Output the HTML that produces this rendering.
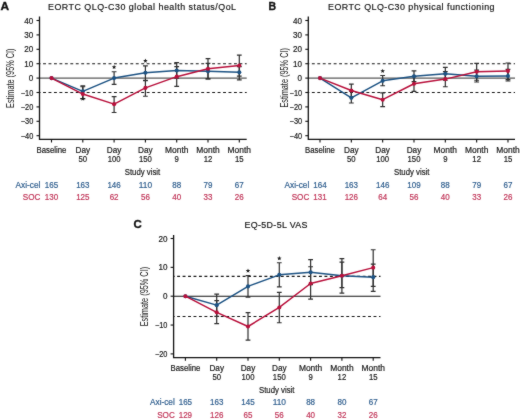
<!DOCTYPE html>
<html><head><meta charset="utf-8"><style>
html,body{margin:0;padding:0;background:#fff;}
svg{display:block;font-family:"Liberation Sans", sans-serif;}
#w{width:520px;height:420px;overflow:hidden;will-change:transform;}
</style></head><body><div id="w">
<svg width="520" height="420" viewBox="0 0 520 420">
<defs><filter id="soft" x="0" y="0" width="520" height="420" filterUnits="userSpaceOnUse" color-interpolation-filters="sRGB"><feConvolveMatrix order="3" kernelMatrix="1 2 1 2 28 2 1 2 1" edgeMode="duplicate"/></filter></defs>
<g filter="url(#soft)">
<rect width="520" height="420" fill="#fff"/>
<text x="0.40" y="9.60" font-size="11.8" textLength="8.6" lengthAdjust="spacingAndGlyphs" font-weight="bold" fill="#111" stroke="#111" stroke-width="0.35">A</text>
<text x="48.00" y="9.60" font-size="8.9" textLength="188" lengthAdjust="spacing" fill="#151515" stroke="#151515" stroke-width="0.18">EORTC QLQ-C30 global health status/QoL</text>
<line x1="39.5" y1="63.70" x2="246.7" y2="63.70" stroke="#151515" stroke-width="1.15" stroke-dasharray="2.9 2.555" stroke-dashoffset="1.9"/>
<line x1="39.5" y1="92.50" x2="246.7" y2="92.50" stroke="#151515" stroke-width="1.15" stroke-dasharray="2.9 2.555" stroke-dashoffset="1.9"/>
<line x1="39.5" y1="78.10" x2="246.7" y2="78.10" stroke="#585858" stroke-width="1.45"/>
<path d="M39.5 16.5 V139.3 H246.7" fill="none" stroke="#111" stroke-width="1.3"/>
<line x1="36.5" y1="20.50" x2="39.5" y2="20.50" stroke="#111" stroke-width="1.1"/>
<text x="33.30" y="23.50" font-size="8.6" text-anchor="end" textLength="8.99" lengthAdjust="spacingAndGlyphs" fill="#1a1a1a" stroke="#1a1a1a" stroke-width="0.2">40</text>
<line x1="36.5" y1="34.90" x2="39.5" y2="34.90" stroke="#111" stroke-width="1.1"/>
<text x="33.30" y="37.90" font-size="8.6" text-anchor="end" textLength="8.99" lengthAdjust="spacingAndGlyphs" fill="#1a1a1a" stroke="#1a1a1a" stroke-width="0.2">30</text>
<line x1="36.5" y1="49.30" x2="39.5" y2="49.30" stroke="#111" stroke-width="1.1"/>
<text x="33.30" y="52.30" font-size="8.6" text-anchor="end" textLength="8.99" lengthAdjust="spacingAndGlyphs" fill="#1a1a1a" stroke="#1a1a1a" stroke-width="0.2">20</text>
<line x1="36.5" y1="63.70" x2="39.5" y2="63.70" stroke="#111" stroke-width="1.1"/>
<text x="33.30" y="66.70" font-size="8.6" text-anchor="end" textLength="8.99" lengthAdjust="spacingAndGlyphs" fill="#1a1a1a" stroke="#1a1a1a" stroke-width="0.2">10</text>
<line x1="36.5" y1="78.10" x2="39.5" y2="78.10" stroke="#111" stroke-width="1.1"/>
<text x="33.30" y="81.10" font-size="8.6" text-anchor="end" textLength="4.49" lengthAdjust="spacingAndGlyphs" fill="#1a1a1a" stroke="#1a1a1a" stroke-width="0.2">0</text>
<line x1="36.5" y1="92.50" x2="39.5" y2="92.50" stroke="#111" stroke-width="1.1"/>
<text x="33.30" y="95.50" font-size="8.6" text-anchor="end" textLength="12.51" lengthAdjust="spacingAndGlyphs" fill="#1a1a1a" stroke="#1a1a1a" stroke-width="0.2">−10</text>
<line x1="36.5" y1="106.90" x2="39.5" y2="106.90" stroke="#111" stroke-width="1.1"/>
<text x="33.30" y="109.90" font-size="8.6" text-anchor="end" textLength="12.51" lengthAdjust="spacingAndGlyphs" fill="#1a1a1a" stroke="#1a1a1a" stroke-width="0.2">−20</text>
<line x1="36.5" y1="121.30" x2="39.5" y2="121.30" stroke="#111" stroke-width="1.1"/>
<text x="33.30" y="124.30" font-size="8.6" text-anchor="end" textLength="12.51" lengthAdjust="spacingAndGlyphs" fill="#1a1a1a" stroke="#1a1a1a" stroke-width="0.2">−30</text>
<line x1="36.5" y1="135.70" x2="39.5" y2="135.70" stroke="#111" stroke-width="1.1"/>
<text x="33.30" y="138.70" font-size="8.6" text-anchor="end" textLength="12.51" lengthAdjust="spacingAndGlyphs" fill="#1a1a1a" stroke="#1a1a1a" stroke-width="0.2">−40</text>
<line x1="51.50" y1="139.3" x2="51.50" y2="142.5" stroke="#111" stroke-width="1.1"/>
<line x1="82.80" y1="139.3" x2="82.80" y2="142.5" stroke="#111" stroke-width="1.1"/>
<line x1="114.10" y1="139.3" x2="114.10" y2="142.5" stroke="#111" stroke-width="1.1"/>
<line x1="145.40" y1="139.3" x2="145.40" y2="142.5" stroke="#111" stroke-width="1.1"/>
<line x1="176.70" y1="139.3" x2="176.70" y2="142.5" stroke="#111" stroke-width="1.1"/>
<line x1="208.00" y1="139.3" x2="208.00" y2="142.5" stroke="#111" stroke-width="1.1"/>
<line x1="239.30" y1="139.3" x2="239.30" y2="142.5" stroke="#111" stroke-width="1.1"/>
<text x="51.50" y="152.80" font-size="8.5" text-anchor="middle" textLength="29.8" lengthAdjust="spacingAndGlyphs" fill="#1a1a1a" stroke="#1a1a1a" stroke-width="0.2">Baseline</text>
<text x="82.80" y="152.80" font-size="8.5" text-anchor="middle" textLength="14.6" lengthAdjust="spacingAndGlyphs" fill="#1a1a1a" stroke="#1a1a1a" stroke-width="0.2">Day</text>
<text x="82.80" y="162.10" font-size="8.9" text-anchor="middle" textLength="8.6" lengthAdjust="spacingAndGlyphs" fill="#1a1a1a" stroke="#1a1a1a" stroke-width="0.2">50</text>
<text x="114.10" y="152.80" font-size="8.5" text-anchor="middle" textLength="14.6" lengthAdjust="spacingAndGlyphs" fill="#1a1a1a" stroke="#1a1a1a" stroke-width="0.2">Day</text>
<text x="114.10" y="162.10" font-size="8.9" text-anchor="middle" textLength="12.899999999999999" lengthAdjust="spacingAndGlyphs" fill="#1a1a1a" stroke="#1a1a1a" stroke-width="0.2">100</text>
<text x="145.40" y="152.80" font-size="8.5" text-anchor="middle" textLength="14.6" lengthAdjust="spacingAndGlyphs" fill="#1a1a1a" stroke="#1a1a1a" stroke-width="0.2">Day</text>
<text x="145.40" y="162.10" font-size="8.9" text-anchor="middle" textLength="12.899999999999999" lengthAdjust="spacingAndGlyphs" fill="#1a1a1a" stroke="#1a1a1a" stroke-width="0.2">150</text>
<text x="176.70" y="152.80" font-size="8.5" text-anchor="middle" textLength="23.4" lengthAdjust="spacingAndGlyphs" fill="#1a1a1a" stroke="#1a1a1a" stroke-width="0.2">Month</text>
<text x="176.70" y="162.10" font-size="8.9" text-anchor="middle" textLength="4.3" lengthAdjust="spacingAndGlyphs" fill="#1a1a1a" stroke="#1a1a1a" stroke-width="0.2">9</text>
<text x="208.00" y="152.80" font-size="8.5" text-anchor="middle" textLength="23.4" lengthAdjust="spacingAndGlyphs" fill="#1a1a1a" stroke="#1a1a1a" stroke-width="0.2">Month</text>
<text x="208.00" y="162.10" font-size="8.9" text-anchor="middle" textLength="8.6" lengthAdjust="spacingAndGlyphs" fill="#1a1a1a" stroke="#1a1a1a" stroke-width="0.2">12</text>
<text x="239.30" y="152.80" font-size="8.5" text-anchor="middle" textLength="23.4" lengthAdjust="spacingAndGlyphs" fill="#1a1a1a" stroke="#1a1a1a" stroke-width="0.2">Month</text>
<text x="239.30" y="162.10" font-size="8.9" text-anchor="middle" textLength="8.6" lengthAdjust="spacingAndGlyphs" fill="#1a1a1a" stroke="#1a1a1a" stroke-width="0.2">15</text>
<text x="142.50" y="174.80" font-size="9.4" text-anchor="middle" textLength="35.5" lengthAdjust="spacingAndGlyphs" fill="#1a1a1a" stroke="#1a1a1a" stroke-width="0.2">Study visit</text>
<text transform="translate(13.9,78.2) rotate(-90)" font-size="10.3" text-anchor="middle" textLength="59.5" lengthAdjust="spacingAndGlyphs" fill="#1a1a1a">Estimate (95% CI)</text>
<path d="M82.80 85.88 V98.55 M80.40 85.88 H85.20 M80.40 98.55 H85.20" stroke="#2e2e2e" stroke-width="1.2" fill="none"/>
<path d="M114.10 71.76 V84.44 M111.70 71.76 H116.50 M111.70 84.44 H116.50" stroke="#2e2e2e" stroke-width="1.2" fill="none"/>
<path d="M145.40 65.86 V80.55 M143.00 65.86 H147.80 M143.00 80.55 H147.80" stroke="#2e2e2e" stroke-width="1.2" fill="none"/>
<path d="M176.70 62.55 V78.10 M174.30 62.55 H179.10 M174.30 78.10 H179.10" stroke="#2e2e2e" stroke-width="1.2" fill="none"/>
<path d="M208.00 63.41 V78.96 M205.60 63.41 H210.40 M205.60 78.96 H210.40" stroke="#2e2e2e" stroke-width="1.2" fill="none"/>
<path d="M239.30 66.58 V79.97 M236.90 66.58 H241.70 M236.90 79.97 H241.70" stroke="#2e2e2e" stroke-width="1.2" fill="none"/>
<path d="M82.80 86.74 V98.55 M80.40 86.74 H85.20 M80.40 98.55 H85.20" stroke="#2e2e2e" stroke-width="1.2" fill="none"/>
<path d="M114.10 96.68 V112.52 M111.70 96.68 H116.50 M111.70 112.52 H116.50" stroke="#2e2e2e" stroke-width="1.2" fill="none"/>
<path d="M145.40 80.26 V96.24 M143.00 80.26 H147.80 M143.00 96.24 H147.80" stroke="#2e2e2e" stroke-width="1.2" fill="none"/>
<path d="M176.70 66.72 V86.31 M174.30 66.72 H179.10 M174.30 86.31 H179.10" stroke="#2e2e2e" stroke-width="1.2" fill="none"/>
<path d="M208.00 58.66 V78.82 M205.60 58.66 H210.40 M205.60 78.82 H210.40" stroke="#2e2e2e" stroke-width="1.2" fill="none"/>
<path d="M239.30 55.20 V76.08 M236.90 55.20 H241.70 M236.90 76.08 H241.70" stroke="#2e2e2e" stroke-width="1.2" fill="none"/>
<polyline points="51.50,78.10 82.80,91.35 114.10,78.10 145.40,72.77 176.70,70.47 208.00,71.33 239.30,72.34" fill="none" stroke="#1c5283" stroke-width="1.5" stroke-linejoin="round"/>
<circle cx="51.50" cy="78.10" r="2.05" fill="#1c5283"/>
<circle cx="82.80" cy="91.35" r="2.05" fill="#1c5283"/>
<circle cx="114.10" cy="78.10" r="2.05" fill="#1c5283"/>
<circle cx="145.40" cy="72.77" r="2.05" fill="#1c5283"/>
<circle cx="176.70" cy="70.47" r="2.05" fill="#1c5283"/>
<circle cx="208.00" cy="71.33" r="2.05" fill="#1c5283"/>
<circle cx="239.30" cy="72.34" r="2.05" fill="#1c5283"/>
<polyline points="51.50,78.10 82.80,94.08 114.10,104.16 145.40,87.89 176.70,76.66 208.00,68.74 239.30,65.43" fill="none" stroke="#b8103b" stroke-width="1.5" stroke-linejoin="round"/>
<circle cx="51.50" cy="78.10" r="2.05" fill="#b8103b"/>
<circle cx="82.80" cy="94.08" r="2.05" fill="#b8103b"/>
<circle cx="114.10" cy="104.16" r="2.05" fill="#b8103b"/>
<circle cx="145.40" cy="87.89" r="2.05" fill="#b8103b"/>
<circle cx="176.70" cy="76.66" r="2.05" fill="#b8103b"/>
<circle cx="208.00" cy="68.74" r="2.05" fill="#b8103b"/>
<circle cx="239.30" cy="65.43" r="2.05" fill="#b8103b"/>
<polygon points="114.10,64.77 114.69,66.36 116.38,66.43 115.05,67.48 115.51,69.11 114.10,68.17 112.69,69.11 113.15,67.48 111.82,66.43 113.51,66.36" fill="#1a1a1a"/>
<polygon points="145.40,58.50 145.99,60.09 147.68,60.16 146.35,61.21 146.81,62.85 145.40,61.90 143.99,62.85 144.45,61.21 143.12,60.16 144.81,60.09" fill="#1a1a1a"/>
<polygon points="82.80,96.45 83.39,98.04 85.08,98.11 83.75,99.16 84.21,100.79 82.80,99.85 81.39,100.79 81.85,99.16 80.52,98.11 82.21,98.04" fill="#1a1a1a"/>
<text x="40.40" y="187.60" font-size="8.5" text-anchor="end" textLength="24.8" lengthAdjust="spacingAndGlyphs" fill="#2f5e8e" stroke="#2f5e8e" stroke-width="0.2">Axi-cel</text>
<text x="40.40" y="199.70" font-size="8.5" text-anchor="end" textLength="17.6" lengthAdjust="spacingAndGlyphs" fill="#c03558" stroke="#c03558" stroke-width="0.2">SOC</text>
<text x="51.50" y="187.60" font-size="8.9" text-anchor="middle" textLength="13.350000000000001" lengthAdjust="spacingAndGlyphs" fill="#2f5e8e" stroke="#2f5e8e" stroke-width="0.2">165</text>
<text x="82.80" y="187.60" font-size="8.9" text-anchor="middle" textLength="13.350000000000001" lengthAdjust="spacingAndGlyphs" fill="#2f5e8e" stroke="#2f5e8e" stroke-width="0.2">163</text>
<text x="114.10" y="187.60" font-size="8.9" text-anchor="middle" textLength="13.350000000000001" lengthAdjust="spacingAndGlyphs" fill="#2f5e8e" stroke="#2f5e8e" stroke-width="0.2">146</text>
<text x="145.40" y="187.60" font-size="8.9" text-anchor="middle" textLength="13.350000000000001" lengthAdjust="spacingAndGlyphs" fill="#2f5e8e" stroke="#2f5e8e" stroke-width="0.2">110</text>
<text x="176.70" y="187.60" font-size="8.9" text-anchor="middle" textLength="8.9" lengthAdjust="spacingAndGlyphs" fill="#2f5e8e" stroke="#2f5e8e" stroke-width="0.2">88</text>
<text x="208.00" y="187.60" font-size="8.9" text-anchor="middle" textLength="8.9" lengthAdjust="spacingAndGlyphs" fill="#2f5e8e" stroke="#2f5e8e" stroke-width="0.2">79</text>
<text x="239.30" y="187.60" font-size="8.9" text-anchor="middle" textLength="8.9" lengthAdjust="spacingAndGlyphs" fill="#2f5e8e" stroke="#2f5e8e" stroke-width="0.2">67</text>
<text x="51.50" y="199.70" font-size="8.9" text-anchor="middle" textLength="13.350000000000001" lengthAdjust="spacingAndGlyphs" fill="#c03558" stroke="#c03558" stroke-width="0.2">130</text>
<text x="82.80" y="199.70" font-size="8.9" text-anchor="middle" textLength="13.350000000000001" lengthAdjust="spacingAndGlyphs" fill="#c03558" stroke="#c03558" stroke-width="0.2">125</text>
<text x="114.10" y="199.70" font-size="8.9" text-anchor="middle" textLength="8.9" lengthAdjust="spacingAndGlyphs" fill="#c03558" stroke="#c03558" stroke-width="0.2">62</text>
<text x="145.40" y="199.70" font-size="8.9" text-anchor="middle" textLength="8.9" lengthAdjust="spacingAndGlyphs" fill="#c03558" stroke="#c03558" stroke-width="0.2">56</text>
<text x="176.70" y="199.70" font-size="8.9" text-anchor="middle" textLength="8.9" lengthAdjust="spacingAndGlyphs" fill="#c03558" stroke="#c03558" stroke-width="0.2">40</text>
<text x="208.00" y="199.70" font-size="8.9" text-anchor="middle" textLength="8.9" lengthAdjust="spacingAndGlyphs" fill="#c03558" stroke="#c03558" stroke-width="0.2">33</text>
<text x="239.30" y="199.70" font-size="8.9" text-anchor="middle" textLength="8.9" lengthAdjust="spacingAndGlyphs" fill="#c03558" stroke="#c03558" stroke-width="0.2">26</text>
<text x="268.60" y="9.60" font-size="11.8" textLength="7.6" lengthAdjust="spacingAndGlyphs" font-weight="bold" fill="#111" stroke="#111" stroke-width="0.35">B</text>
<text x="328.00" y="9.60" font-size="8.9" textLength="166.5" lengthAdjust="spacing" fill="#151515" stroke="#151515" stroke-width="0.18">EORTC QLQ-C30 physical functioning</text>
<line x1="308.3" y1="63.70" x2="515" y2="63.70" stroke="#151515" stroke-width="1.15" stroke-dasharray="2.9 2.555" stroke-dashoffset="1.9"/>
<line x1="308.3" y1="92.50" x2="515" y2="92.50" stroke="#151515" stroke-width="1.15" stroke-dasharray="2.9 2.555" stroke-dashoffset="1.9"/>
<line x1="308.3" y1="78.10" x2="515" y2="78.10" stroke="#585858" stroke-width="1.45"/>
<path d="M308.3 16.5 V139.3 H515" fill="none" stroke="#111" stroke-width="1.3"/>
<line x1="305.3" y1="20.50" x2="308.3" y2="20.50" stroke="#111" stroke-width="1.1"/>
<text x="302.10" y="23.50" font-size="8.6" text-anchor="end" textLength="8.99" lengthAdjust="spacingAndGlyphs" fill="#1a1a1a" stroke="#1a1a1a" stroke-width="0.2">40</text>
<line x1="305.3" y1="34.90" x2="308.3" y2="34.90" stroke="#111" stroke-width="1.1"/>
<text x="302.10" y="37.90" font-size="8.6" text-anchor="end" textLength="8.99" lengthAdjust="spacingAndGlyphs" fill="#1a1a1a" stroke="#1a1a1a" stroke-width="0.2">30</text>
<line x1="305.3" y1="49.30" x2="308.3" y2="49.30" stroke="#111" stroke-width="1.1"/>
<text x="302.10" y="52.30" font-size="8.6" text-anchor="end" textLength="8.99" lengthAdjust="spacingAndGlyphs" fill="#1a1a1a" stroke="#1a1a1a" stroke-width="0.2">20</text>
<line x1="305.3" y1="63.70" x2="308.3" y2="63.70" stroke="#111" stroke-width="1.1"/>
<text x="302.10" y="66.70" font-size="8.6" text-anchor="end" textLength="8.99" lengthAdjust="spacingAndGlyphs" fill="#1a1a1a" stroke="#1a1a1a" stroke-width="0.2">10</text>
<line x1="305.3" y1="78.10" x2="308.3" y2="78.10" stroke="#111" stroke-width="1.1"/>
<text x="302.10" y="81.10" font-size="8.6" text-anchor="end" textLength="4.49" lengthAdjust="spacingAndGlyphs" fill="#1a1a1a" stroke="#1a1a1a" stroke-width="0.2">0</text>
<line x1="305.3" y1="92.50" x2="308.3" y2="92.50" stroke="#111" stroke-width="1.1"/>
<text x="302.10" y="95.50" font-size="8.6" text-anchor="end" textLength="12.51" lengthAdjust="spacingAndGlyphs" fill="#1a1a1a" stroke="#1a1a1a" stroke-width="0.2">−10</text>
<line x1="305.3" y1="106.90" x2="308.3" y2="106.90" stroke="#111" stroke-width="1.1"/>
<text x="302.10" y="109.90" font-size="8.6" text-anchor="end" textLength="12.51" lengthAdjust="spacingAndGlyphs" fill="#1a1a1a" stroke="#1a1a1a" stroke-width="0.2">−20</text>
<line x1="305.3" y1="121.30" x2="308.3" y2="121.30" stroke="#111" stroke-width="1.1"/>
<text x="302.10" y="124.30" font-size="8.6" text-anchor="end" textLength="12.51" lengthAdjust="spacingAndGlyphs" fill="#1a1a1a" stroke="#1a1a1a" stroke-width="0.2">−30</text>
<line x1="305.3" y1="135.70" x2="308.3" y2="135.70" stroke="#111" stroke-width="1.1"/>
<text x="302.10" y="138.70" font-size="8.6" text-anchor="end" textLength="12.51" lengthAdjust="spacingAndGlyphs" fill="#1a1a1a" stroke="#1a1a1a" stroke-width="0.2">−40</text>
<line x1="320.00" y1="139.3" x2="320.00" y2="142.5" stroke="#111" stroke-width="1.1"/>
<line x1="351.33" y1="139.3" x2="351.33" y2="142.5" stroke="#111" stroke-width="1.1"/>
<line x1="382.66" y1="139.3" x2="382.66" y2="142.5" stroke="#111" stroke-width="1.1"/>
<line x1="413.99" y1="139.3" x2="413.99" y2="142.5" stroke="#111" stroke-width="1.1"/>
<line x1="445.32" y1="139.3" x2="445.32" y2="142.5" stroke="#111" stroke-width="1.1"/>
<line x1="476.65" y1="139.3" x2="476.65" y2="142.5" stroke="#111" stroke-width="1.1"/>
<line x1="507.98" y1="139.3" x2="507.98" y2="142.5" stroke="#111" stroke-width="1.1"/>
<text x="320.00" y="152.80" font-size="8.5" text-anchor="middle" textLength="29.8" lengthAdjust="spacingAndGlyphs" fill="#1a1a1a" stroke="#1a1a1a" stroke-width="0.2">Baseline</text>
<text x="351.33" y="152.80" font-size="8.5" text-anchor="middle" textLength="14.6" lengthAdjust="spacingAndGlyphs" fill="#1a1a1a" stroke="#1a1a1a" stroke-width="0.2">Day</text>
<text x="351.33" y="162.10" font-size="8.9" text-anchor="middle" textLength="8.6" lengthAdjust="spacingAndGlyphs" fill="#1a1a1a" stroke="#1a1a1a" stroke-width="0.2">50</text>
<text x="382.66" y="152.80" font-size="8.5" text-anchor="middle" textLength="14.6" lengthAdjust="spacingAndGlyphs" fill="#1a1a1a" stroke="#1a1a1a" stroke-width="0.2">Day</text>
<text x="382.66" y="162.10" font-size="8.9" text-anchor="middle" textLength="12.899999999999999" lengthAdjust="spacingAndGlyphs" fill="#1a1a1a" stroke="#1a1a1a" stroke-width="0.2">100</text>
<text x="413.99" y="152.80" font-size="8.5" text-anchor="middle" textLength="14.6" lengthAdjust="spacingAndGlyphs" fill="#1a1a1a" stroke="#1a1a1a" stroke-width="0.2">Day</text>
<text x="413.99" y="162.10" font-size="8.9" text-anchor="middle" textLength="12.899999999999999" lengthAdjust="spacingAndGlyphs" fill="#1a1a1a" stroke="#1a1a1a" stroke-width="0.2">150</text>
<text x="445.32" y="152.80" font-size="8.5" text-anchor="middle" textLength="23.4" lengthAdjust="spacingAndGlyphs" fill="#1a1a1a" stroke="#1a1a1a" stroke-width="0.2">Month</text>
<text x="445.32" y="162.10" font-size="8.9" text-anchor="middle" textLength="4.3" lengthAdjust="spacingAndGlyphs" fill="#1a1a1a" stroke="#1a1a1a" stroke-width="0.2">9</text>
<text x="476.65" y="152.80" font-size="8.5" text-anchor="middle" textLength="23.4" lengthAdjust="spacingAndGlyphs" fill="#1a1a1a" stroke="#1a1a1a" stroke-width="0.2">Month</text>
<text x="476.65" y="162.10" font-size="8.9" text-anchor="middle" textLength="8.6" lengthAdjust="spacingAndGlyphs" fill="#1a1a1a" stroke="#1a1a1a" stroke-width="0.2">12</text>
<text x="507.98" y="152.80" font-size="8.5" text-anchor="middle" textLength="23.4" lengthAdjust="spacingAndGlyphs" fill="#1a1a1a" stroke="#1a1a1a" stroke-width="0.2">Month</text>
<text x="507.98" y="162.10" font-size="8.9" text-anchor="middle" textLength="8.6" lengthAdjust="spacingAndGlyphs" fill="#1a1a1a" stroke="#1a1a1a" stroke-width="0.2">15</text>
<text x="411.70" y="174.80" font-size="9.4" text-anchor="middle" textLength="35.5" lengthAdjust="spacingAndGlyphs" fill="#1a1a1a" stroke="#1a1a1a" stroke-width="0.2">Study visit</text>
<text transform="translate(288.1,77.8) rotate(-90)" font-size="10.3" text-anchor="middle" textLength="59.5" lengthAdjust="spacingAndGlyphs" fill="#1a1a1a">Estimate (95% CI)</text>
<path d="M351.33 91.06 V103.01 M348.93 91.06 H353.73 M348.93 103.01 H353.73" stroke="#2e2e2e" stroke-width="1.2" fill="none"/>
<path d="M382.66 75.51 V85.73 M380.26 75.51 H385.06 M380.26 85.73 H385.06" stroke="#2e2e2e" stroke-width="1.2" fill="none"/>
<path d="M413.99 70.90 V81.70 M411.59 70.90 H416.39 M411.59 81.70 H416.39" stroke="#2e2e2e" stroke-width="1.2" fill="none"/>
<path d="M445.32 67.44 V80.26 M442.92 67.44 H447.72 M442.92 80.26 H447.72" stroke="#2e2e2e" stroke-width="1.2" fill="none"/>
<path d="M476.65 70.18 V81.99 M474.25 70.18 H479.05 M474.25 81.99 H479.05" stroke="#2e2e2e" stroke-width="1.2" fill="none"/>
<path d="M507.98 69.46 V80.98 M505.58 69.46 H510.38 M505.58 80.98 H510.38" stroke="#2e2e2e" stroke-width="1.2" fill="none"/>
<path d="M351.33 84.15 V96.82 M348.93 84.15 H353.73 M348.93 96.82 H353.73" stroke="#2e2e2e" stroke-width="1.2" fill="none"/>
<path d="M382.66 92.93 V106.61 M380.26 92.93 H385.06 M380.26 106.61 H385.06" stroke="#2e2e2e" stroke-width="1.2" fill="none"/>
<path d="M413.99 76.66 V91.35 M411.59 76.66 H416.39 M411.59 91.35 H416.39" stroke="#2e2e2e" stroke-width="1.2" fill="none"/>
<path d="M445.32 71.62 V86.74 M442.92 71.62 H447.72 M442.92 86.74 H447.72" stroke="#2e2e2e" stroke-width="1.2" fill="none"/>
<path d="M476.65 63.41 V80.26 M474.25 63.41 H479.05 M474.25 80.26 H479.05" stroke="#2e2e2e" stroke-width="1.2" fill="none"/>
<path d="M507.98 62.98 V79.54 M505.58 62.98 H510.38 M505.58 79.54 H510.38" stroke="#2e2e2e" stroke-width="1.2" fill="none"/>
<polyline points="320.00,78.10 351.33,97.83 382.66,80.84 413.99,76.23 445.32,73.78 476.65,76.23 507.98,75.94" fill="none" stroke="#1c5283" stroke-width="1.5" stroke-linejoin="round"/>
<circle cx="320.00" cy="78.10" r="2.05" fill="#1c5283"/>
<circle cx="351.33" cy="97.83" r="2.05" fill="#1c5283"/>
<circle cx="382.66" cy="80.84" r="2.05" fill="#1c5283"/>
<circle cx="413.99" cy="76.23" r="2.05" fill="#1c5283"/>
<circle cx="445.32" cy="73.78" r="2.05" fill="#1c5283"/>
<circle cx="476.65" cy="76.23" r="2.05" fill="#1c5283"/>
<circle cx="507.98" cy="75.94" r="2.05" fill="#1c5283"/>
<polyline points="320.00,78.10 351.33,90.48 382.66,99.70 413.99,83.72 445.32,79.11 476.65,71.76 507.98,70.90" fill="none" stroke="#b8103b" stroke-width="1.5" stroke-linejoin="round"/>
<circle cx="320.00" cy="78.10" r="2.05" fill="#b8103b"/>
<circle cx="351.33" cy="90.48" r="2.05" fill="#b8103b"/>
<circle cx="382.66" cy="99.70" r="2.05" fill="#b8103b"/>
<circle cx="413.99" cy="83.72" r="2.05" fill="#b8103b"/>
<circle cx="445.32" cy="79.11" r="2.05" fill="#b8103b"/>
<circle cx="476.65" cy="71.76" r="2.05" fill="#b8103b"/>
<circle cx="507.98" cy="70.90" r="2.05" fill="#b8103b"/>
<polygon points="382.66,68.70 383.25,70.29 384.94,70.36 383.61,71.41 384.07,73.04 382.66,72.10 381.25,73.04 381.71,71.41 380.38,70.36 382.07,70.29" fill="#1a1a1a"/>
<text x="309.30" y="187.60" font-size="8.5" text-anchor="end" textLength="24.8" lengthAdjust="spacingAndGlyphs" fill="#2f5e8e" stroke="#2f5e8e" stroke-width="0.2">Axi-cel</text>
<text x="309.30" y="199.70" font-size="8.5" text-anchor="end" textLength="17.6" lengthAdjust="spacingAndGlyphs" fill="#c03558" stroke="#c03558" stroke-width="0.2">SOC</text>
<text x="320.00" y="187.60" font-size="8.9" text-anchor="middle" textLength="13.350000000000001" lengthAdjust="spacingAndGlyphs" fill="#2f5e8e" stroke="#2f5e8e" stroke-width="0.2">164</text>
<text x="351.33" y="187.60" font-size="8.9" text-anchor="middle" textLength="13.350000000000001" lengthAdjust="spacingAndGlyphs" fill="#2f5e8e" stroke="#2f5e8e" stroke-width="0.2">163</text>
<text x="382.66" y="187.60" font-size="8.9" text-anchor="middle" textLength="13.350000000000001" lengthAdjust="spacingAndGlyphs" fill="#2f5e8e" stroke="#2f5e8e" stroke-width="0.2">146</text>
<text x="413.99" y="187.60" font-size="8.9" text-anchor="middle" textLength="13.350000000000001" lengthAdjust="spacingAndGlyphs" fill="#2f5e8e" stroke="#2f5e8e" stroke-width="0.2">109</text>
<text x="445.32" y="187.60" font-size="8.9" text-anchor="middle" textLength="8.9" lengthAdjust="spacingAndGlyphs" fill="#2f5e8e" stroke="#2f5e8e" stroke-width="0.2">88</text>
<text x="476.65" y="187.60" font-size="8.9" text-anchor="middle" textLength="8.9" lengthAdjust="spacingAndGlyphs" fill="#2f5e8e" stroke="#2f5e8e" stroke-width="0.2">79</text>
<text x="507.98" y="187.60" font-size="8.9" text-anchor="middle" textLength="8.9" lengthAdjust="spacingAndGlyphs" fill="#2f5e8e" stroke="#2f5e8e" stroke-width="0.2">67</text>
<text x="320.00" y="199.70" font-size="8.9" text-anchor="middle" textLength="13.350000000000001" lengthAdjust="spacingAndGlyphs" fill="#c03558" stroke="#c03558" stroke-width="0.2">131</text>
<text x="351.33" y="199.70" font-size="8.9" text-anchor="middle" textLength="13.350000000000001" lengthAdjust="spacingAndGlyphs" fill="#c03558" stroke="#c03558" stroke-width="0.2">126</text>
<text x="382.66" y="199.70" font-size="8.9" text-anchor="middle" textLength="8.9" lengthAdjust="spacingAndGlyphs" fill="#c03558" stroke="#c03558" stroke-width="0.2">64</text>
<text x="413.99" y="199.70" font-size="8.9" text-anchor="middle" textLength="8.9" lengthAdjust="spacingAndGlyphs" fill="#c03558" stroke="#c03558" stroke-width="0.2">56</text>
<text x="445.32" y="199.70" font-size="8.9" text-anchor="middle" textLength="8.9" lengthAdjust="spacingAndGlyphs" fill="#c03558" stroke="#c03558" stroke-width="0.2">40</text>
<text x="476.65" y="199.70" font-size="8.9" text-anchor="middle" textLength="8.9" lengthAdjust="spacingAndGlyphs" fill="#c03558" stroke="#c03558" stroke-width="0.2">33</text>
<text x="507.98" y="199.70" font-size="8.9" text-anchor="middle" textLength="8.9" lengthAdjust="spacingAndGlyphs" fill="#c03558" stroke="#c03558" stroke-width="0.2">26</text>
<text x="133.40" y="228.40" font-size="11.8" textLength="8.3" lengthAdjust="spacingAndGlyphs" font-weight="bold" fill="#111" stroke="#111" stroke-width="0.35">C</text>
<text x="244.50" y="227.90" font-size="8.9" textLength="63" lengthAdjust="spacing" fill="#151515" stroke="#151515" stroke-width="0.18">EQ-5D-5L VAS</text>
<line x1="173.6" y1="276.40" x2="380.5" y2="276.40" stroke="#151515" stroke-width="1.15" stroke-dasharray="2.9 2.555" stroke-dashoffset="1.9"/>
<line x1="173.6" y1="316.50" x2="380.5" y2="316.50" stroke="#151515" stroke-width="1.15" stroke-dasharray="2.9 2.555" stroke-dashoffset="1.9"/>
<line x1="173.6" y1="296.20" x2="380.5" y2="296.20" stroke="#111" stroke-width="1.1"/>
<path d="M173.6 235 V357.6 H380.5" fill="none" stroke="#111" stroke-width="1.3"/>
<line x1="170.6" y1="238.50" x2="173.6" y2="238.50" stroke="#111" stroke-width="1.1"/>
<text x="167.40" y="241.50" font-size="8.6" text-anchor="end" textLength="8.99" lengthAdjust="spacingAndGlyphs" fill="#1a1a1a" stroke="#1a1a1a" stroke-width="0.2">20</text>
<line x1="170.6" y1="267.35" x2="173.6" y2="267.35" stroke="#111" stroke-width="1.1"/>
<text x="167.40" y="270.35" font-size="8.6" text-anchor="end" textLength="8.99" lengthAdjust="spacingAndGlyphs" fill="#1a1a1a" stroke="#1a1a1a" stroke-width="0.2">10</text>
<line x1="170.6" y1="296.20" x2="173.6" y2="296.20" stroke="#111" stroke-width="1.1"/>
<text x="167.40" y="299.20" font-size="8.6" text-anchor="end" textLength="4.49" lengthAdjust="spacingAndGlyphs" fill="#1a1a1a" stroke="#1a1a1a" stroke-width="0.2">0</text>
<line x1="170.6" y1="325.05" x2="173.6" y2="325.05" stroke="#111" stroke-width="1.1"/>
<text x="167.40" y="328.05" font-size="8.6" text-anchor="end" textLength="12.51" lengthAdjust="spacingAndGlyphs" fill="#1a1a1a" stroke="#1a1a1a" stroke-width="0.2">−10</text>
<line x1="170.6" y1="353.90" x2="173.6" y2="353.90" stroke="#111" stroke-width="1.1"/>
<text x="167.40" y="356.90" font-size="8.6" text-anchor="end" textLength="12.51" lengthAdjust="spacingAndGlyphs" fill="#1a1a1a" stroke="#1a1a1a" stroke-width="0.2">−20</text>
<line x1="185.40" y1="357.6" x2="185.40" y2="360.8" stroke="#111" stroke-width="1.1"/>
<line x1="216.70" y1="357.6" x2="216.70" y2="360.8" stroke="#111" stroke-width="1.1"/>
<line x1="248.00" y1="357.6" x2="248.00" y2="360.8" stroke="#111" stroke-width="1.1"/>
<line x1="279.30" y1="357.6" x2="279.30" y2="360.8" stroke="#111" stroke-width="1.1"/>
<line x1="310.60" y1="357.6" x2="310.60" y2="360.8" stroke="#111" stroke-width="1.1"/>
<line x1="341.90" y1="357.6" x2="341.90" y2="360.8" stroke="#111" stroke-width="1.1"/>
<line x1="373.20" y1="357.6" x2="373.20" y2="360.8" stroke="#111" stroke-width="1.1"/>
<text x="185.40" y="370.60" font-size="8.5" text-anchor="middle" textLength="29.8" lengthAdjust="spacingAndGlyphs" fill="#1a1a1a" stroke="#1a1a1a" stroke-width="0.2">Baseline</text>
<text x="216.70" y="370.60" font-size="8.5" text-anchor="middle" textLength="14.6" lengthAdjust="spacingAndGlyphs" fill="#1a1a1a" stroke="#1a1a1a" stroke-width="0.2">Day</text>
<text x="216.70" y="380.30" font-size="8.9" text-anchor="middle" textLength="8.6" lengthAdjust="spacingAndGlyphs" fill="#1a1a1a" stroke="#1a1a1a" stroke-width="0.2">50</text>
<text x="248.00" y="370.60" font-size="8.5" text-anchor="middle" textLength="14.6" lengthAdjust="spacingAndGlyphs" fill="#1a1a1a" stroke="#1a1a1a" stroke-width="0.2">Day</text>
<text x="248.00" y="380.30" font-size="8.9" text-anchor="middle" textLength="12.899999999999999" lengthAdjust="spacingAndGlyphs" fill="#1a1a1a" stroke="#1a1a1a" stroke-width="0.2">100</text>
<text x="279.30" y="370.60" font-size="8.5" text-anchor="middle" textLength="14.6" lengthAdjust="spacingAndGlyphs" fill="#1a1a1a" stroke="#1a1a1a" stroke-width="0.2">Day</text>
<text x="279.30" y="380.30" font-size="8.9" text-anchor="middle" textLength="12.899999999999999" lengthAdjust="spacingAndGlyphs" fill="#1a1a1a" stroke="#1a1a1a" stroke-width="0.2">150</text>
<text x="310.60" y="370.60" font-size="8.5" text-anchor="middle" textLength="23.4" lengthAdjust="spacingAndGlyphs" fill="#1a1a1a" stroke="#1a1a1a" stroke-width="0.2">Month</text>
<text x="310.60" y="380.30" font-size="8.9" text-anchor="middle" textLength="4.3" lengthAdjust="spacingAndGlyphs" fill="#1a1a1a" stroke="#1a1a1a" stroke-width="0.2">9</text>
<text x="341.90" y="370.60" font-size="8.5" text-anchor="middle" textLength="23.4" lengthAdjust="spacingAndGlyphs" fill="#1a1a1a" stroke="#1a1a1a" stroke-width="0.2">Month</text>
<text x="341.90" y="380.30" font-size="8.9" text-anchor="middle" textLength="8.6" lengthAdjust="spacingAndGlyphs" fill="#1a1a1a" stroke="#1a1a1a" stroke-width="0.2">12</text>
<text x="373.20" y="370.60" font-size="8.5" text-anchor="middle" textLength="23.4" lengthAdjust="spacingAndGlyphs" fill="#1a1a1a" stroke="#1a1a1a" stroke-width="0.2">Month</text>
<text x="373.20" y="380.30" font-size="8.9" text-anchor="middle" textLength="8.6" lengthAdjust="spacingAndGlyphs" fill="#1a1a1a" stroke="#1a1a1a" stroke-width="0.2">15</text>
<text x="276.70" y="393.10" font-size="9.4" text-anchor="middle" textLength="35.5" lengthAdjust="spacingAndGlyphs" fill="#1a1a1a" stroke="#1a1a1a" stroke-width="0.2">Study visit</text>
<text transform="translate(148.2,296.6) rotate(-90)" font-size="10.3" text-anchor="middle" textLength="59.5" lengthAdjust="spacingAndGlyphs" fill="#1a1a1a">Estimate (95% CI)</text>
<path d="M216.70 294.18 V316.39 M214.30 294.18 H219.10 M214.30 316.39 H219.10" stroke="#2e2e2e" stroke-width="1.2" fill="none"/>
<path d="M248.00 275.72 V297.07 M245.60 275.72 H250.40 M245.60 297.07 H250.40" stroke="#2e2e2e" stroke-width="1.2" fill="none"/>
<path d="M279.30 262.73 V286.97 M276.90 262.73 H281.70 M276.90 286.97 H281.70" stroke="#2e2e2e" stroke-width="1.2" fill="none"/>
<path d="M310.60 259.56 V284.66 M308.20 259.56 H313.00 M308.20 284.66 H313.00" stroke="#2e2e2e" stroke-width="1.2" fill="none"/>
<path d="M341.90 262.16 V293.03 M339.50 262.16 H344.30 M339.50 293.03 H344.30" stroke="#2e2e2e" stroke-width="1.2" fill="none"/>
<path d="M373.20 264.18 V291.30 M370.80 264.18 H375.60 M370.80 291.30 H375.60" stroke="#2e2e2e" stroke-width="1.2" fill="none"/>
<path d="M216.70 300.53 V323.61 M214.30 300.53 H219.10 M214.30 323.61 H219.10" stroke="#2e2e2e" stroke-width="1.2" fill="none"/>
<path d="M248.00 312.64 V340.05 M245.60 312.64 H250.40 M245.60 340.05 H250.40" stroke="#2e2e2e" stroke-width="1.2" fill="none"/>
<path d="M279.30 292.45 V322.74 M276.90 292.45 H281.70 M276.90 322.74 H281.70" stroke="#2e2e2e" stroke-width="1.2" fill="none"/>
<path d="M310.60 266.77 V299.08 M308.20 266.77 H313.00 M308.20 299.08 H313.00" stroke="#2e2e2e" stroke-width="1.2" fill="none"/>
<path d="M341.90 258.69 V287.55 M339.50 258.69 H344.30 M339.50 287.55 H344.30" stroke="#2e2e2e" stroke-width="1.2" fill="none"/>
<path d="M373.20 249.75 V286.39 M370.80 249.75 H375.60 M370.80 286.39 H375.60" stroke="#2e2e2e" stroke-width="1.2" fill="none"/>
<polyline points="185.40,296.20 216.70,305.14 248.00,286.39 279.30,274.85 310.60,272.25 341.90,275.72 373.20,277.16" fill="none" stroke="#1c5283" stroke-width="1.5" stroke-linejoin="round"/>
<circle cx="185.40" cy="296.20" r="2.05" fill="#1c5283"/>
<circle cx="216.70" cy="305.14" r="2.05" fill="#1c5283"/>
<circle cx="248.00" cy="286.39" r="2.05" fill="#1c5283"/>
<circle cx="279.30" cy="274.85" r="2.05" fill="#1c5283"/>
<circle cx="310.60" cy="272.25" r="2.05" fill="#1c5283"/>
<circle cx="341.90" cy="275.72" r="2.05" fill="#1c5283"/>
<circle cx="373.20" cy="277.16" r="2.05" fill="#1c5283"/>
<polyline points="185.40,296.20 216.70,312.36 248.00,326.49 279.30,307.45 310.60,283.51 341.90,275.72 373.20,267.64" fill="none" stroke="#b8103b" stroke-width="1.5" stroke-linejoin="round"/>
<circle cx="185.40" cy="296.20" r="2.05" fill="#b8103b"/>
<circle cx="216.70" cy="312.36" r="2.05" fill="#b8103b"/>
<circle cx="248.00" cy="326.49" r="2.05" fill="#b8103b"/>
<circle cx="279.30" cy="307.45" r="2.05" fill="#b8103b"/>
<circle cx="310.60" cy="283.51" r="2.05" fill="#b8103b"/>
<circle cx="341.90" cy="275.72" r="2.05" fill="#b8103b"/>
<circle cx="373.20" cy="267.64" r="2.05" fill="#b8103b"/>
<polygon points="248.00,268.42 248.59,270.01 250.28,270.08 248.95,271.13 249.41,272.77 248.00,271.82 246.59,272.77 247.05,271.13 245.72,270.08 247.41,270.01" fill="#1a1a1a"/>
<polygon points="279.30,256.02 279.89,257.61 281.58,257.68 280.25,258.73 280.71,260.36 279.30,259.42 277.89,260.36 278.35,258.73 277.02,257.68 278.71,257.61" fill="#1a1a1a"/>
<text x="174.80" y="405.20" font-size="8.5" text-anchor="end" textLength="24.8" lengthAdjust="spacingAndGlyphs" fill="#2f5e8e" stroke="#2f5e8e" stroke-width="0.2">Axi-cel</text>
<text x="174.80" y="417.60" font-size="8.5" text-anchor="end" textLength="17.6" lengthAdjust="spacingAndGlyphs" fill="#c03558" stroke="#c03558" stroke-width="0.2">SOC</text>
<text x="185.40" y="405.20" font-size="8.9" text-anchor="middle" textLength="13.350000000000001" lengthAdjust="spacingAndGlyphs" fill="#2f5e8e" stroke="#2f5e8e" stroke-width="0.2">165</text>
<text x="216.70" y="405.20" font-size="8.9" text-anchor="middle" textLength="13.350000000000001" lengthAdjust="spacingAndGlyphs" fill="#2f5e8e" stroke="#2f5e8e" stroke-width="0.2">163</text>
<text x="248.00" y="405.20" font-size="8.9" text-anchor="middle" textLength="13.350000000000001" lengthAdjust="spacingAndGlyphs" fill="#2f5e8e" stroke="#2f5e8e" stroke-width="0.2">145</text>
<text x="279.30" y="405.20" font-size="8.9" text-anchor="middle" textLength="13.350000000000001" lengthAdjust="spacingAndGlyphs" fill="#2f5e8e" stroke="#2f5e8e" stroke-width="0.2">110</text>
<text x="310.60" y="405.20" font-size="8.9" text-anchor="middle" textLength="8.9" lengthAdjust="spacingAndGlyphs" fill="#2f5e8e" stroke="#2f5e8e" stroke-width="0.2">88</text>
<text x="341.90" y="405.20" font-size="8.9" text-anchor="middle" textLength="8.9" lengthAdjust="spacingAndGlyphs" fill="#2f5e8e" stroke="#2f5e8e" stroke-width="0.2">80</text>
<text x="373.20" y="405.20" font-size="8.9" text-anchor="middle" textLength="8.9" lengthAdjust="spacingAndGlyphs" fill="#2f5e8e" stroke="#2f5e8e" stroke-width="0.2">67</text>
<text x="185.40" y="417.60" font-size="8.9" text-anchor="middle" textLength="13.350000000000001" lengthAdjust="spacingAndGlyphs" fill="#c03558" stroke="#c03558" stroke-width="0.2">129</text>
<text x="216.70" y="417.60" font-size="8.9" text-anchor="middle" textLength="13.350000000000001" lengthAdjust="spacingAndGlyphs" fill="#c03558" stroke="#c03558" stroke-width="0.2">126</text>
<text x="248.00" y="417.60" font-size="8.9" text-anchor="middle" textLength="8.9" lengthAdjust="spacingAndGlyphs" fill="#c03558" stroke="#c03558" stroke-width="0.2">65</text>
<text x="279.30" y="417.60" font-size="8.9" text-anchor="middle" textLength="8.9" lengthAdjust="spacingAndGlyphs" fill="#c03558" stroke="#c03558" stroke-width="0.2">56</text>
<text x="310.60" y="417.60" font-size="8.9" text-anchor="middle" textLength="8.9" lengthAdjust="spacingAndGlyphs" fill="#c03558" stroke="#c03558" stroke-width="0.2">40</text>
<text x="341.90" y="417.60" font-size="8.9" text-anchor="middle" textLength="8.9" lengthAdjust="spacingAndGlyphs" fill="#c03558" stroke="#c03558" stroke-width="0.2">32</text>
<text x="373.20" y="417.60" font-size="8.9" text-anchor="middle" textLength="8.9" lengthAdjust="spacingAndGlyphs" fill="#c03558" stroke="#c03558" stroke-width="0.2">26</text>
</g>
</svg></div></body></html>
